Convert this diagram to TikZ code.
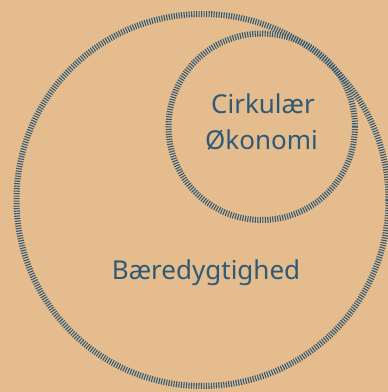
\documentclass[tikz,border=0pt]{standalone}
\usepackage{fontspec}
\setmainfont{Noto Sans}
\definecolor{bg}{HTML}{E5BC8E}
\definecolor{ink}{HTML}{2F5A75}
\tikzset{
  ring/.style={circle, draw=ink, line width=6pt, dash pattern=on 1.1pt off 1.4pt, inner sep=0pt, outer sep=0pt},
  label/.style={text=ink, inner sep=0pt, anchor=base, font=\fontsize{26}{36}\selectfont}
}
\begin{document}
\begin{tikzpicture}[x=1pt,y=1pt]
\fill[bg] (0,0) rectangle (388,392);
\useasboundingbox (0,0) rectangle (388,392);
\node[ring, minimum size=372pt] (big) at (202.5,192) {};
\node[ring, minimum size=186.5pt] (small) at (261.75,265.25) {};
\node[label] (cirk) at (263,278) {Cirkulær};
\node[label] (oko) at (261.5,242) {Økonomi};
\node[label] (baer) at (206,113) {Bæredygtighed};
\end{tikzpicture}
\end{document}
